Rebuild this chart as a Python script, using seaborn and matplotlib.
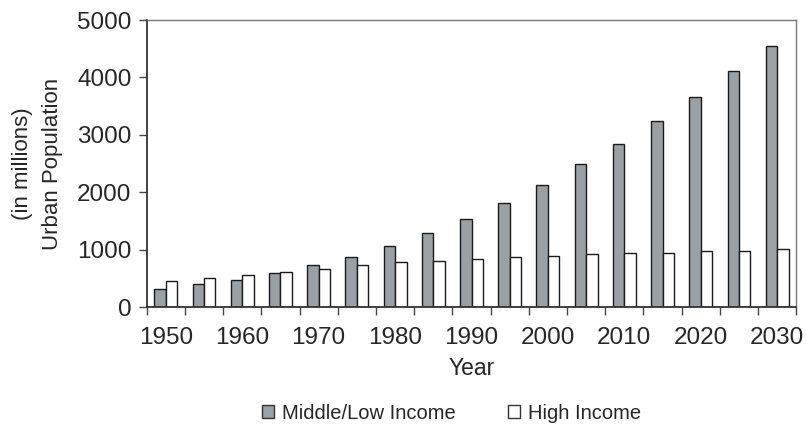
import numpy as np
import pandas as pd
import matplotlib
matplotlib.use("Agg")
import matplotlib.pyplot as plt
from matplotlib.patches import Rectangle
import seaborn as sns

years = [1950, 1955, 1960, 1965, 1970, 1975, 1980, 1985, 1990,
         1995, 2000, 2005, 2010, 2015, 2020, 2025, 2030]
middle_low = [308, 395, 477, 587, 727, 866, 1058, 1285, 1535,
              1820, 2128, 2488, 2849, 3238, 3657, 4105, 4552]
high = [448, 506, 558, 610, 669, 727, 785, 808, 837,
        866, 895, 924, 948, 948, 977, 977, 1006]
series_names = ["Middle/Low Income", "High Income"]
colors = ["#9aa0a6", "#ffffff"]

df = pd.DataFrame({
    "Year": [str(y) for y in years] * 2,
    "Population": middle_low + high,
    "Group": [series_names[0]] * len(years) + [series_names[1]] * len(years),
})

sns.set_style("white")
plt.rcParams["font.family"] = ["Liberation Sans", "DejaVu Sans"]

fig = plt.figure(figsize=(8.06, 4.26), dpi=100)
ax = fig.add_axes([0.182, 0.279, 0.806, 0.674])

sns.barplot(data=df, x="Year", y="Population", hue="Group",
            hue_order=series_names, palette=colors, width=0.6,
            edgecolor="#1a1a1a", linewidth=1.0, legend=False, ax=ax)

ax.set_ylim(0, 5000)
ax.set_xlim(-0.5, len(years) - 0.5)
ax.set_yticks(range(0, 5001, 1000))
ax.tick_params(axis="y", labelsize=17.5, length=6, width=1, color="#444444",
               direction="out", left=True, pad=5)

# labels every 10 years at group centers, ticks at group boundaries
ax.set_xticks(range(0, len(years), 2))
ax.set_xticklabels([str(y) for y in years[::2]])
ax.set_xticks(np.arange(-0.5, len(years), 1), minor=True)
ax.tick_params(axis="x", which="major", length=0, labelsize=17.5, pad=14)
ax.tick_params(axis="x", which="minor", length=6, width=1, color="#444444",
               direction="out", bottom=True)

ax.set_xlabel("Year", fontsize=16.5, labelpad=6)
ax.set_ylabel("(in millions)\nUrban Population", fontsize=16, labelpad=10,
              linespacing=1.55)

for side in ["left", "bottom"]:
    ax.spines[side].set_color("#333333")
    ax.spines[side].set_linewidth(1.3)
for side in ["top", "right"]:
    ax.spines[side].set_color("#777777")
    ax.spines[side].set_linewidth(1.0)

handles = [Rectangle((0, 0), 1, 1, facecolor=c, edgecolor="#333333", linewidth=1)
           for c in colors]
fig.legend(handles, series_names, loc="lower center", ncol=2, frameon=False,
           fontsize=14.5, handlelength=0.6, handleheight=0.6, handletextpad=0.4,
           columnspacing=2.6, bbox_to_anchor=(0.56, -0.035))

fig.savefig("out.png", dpi=100)
